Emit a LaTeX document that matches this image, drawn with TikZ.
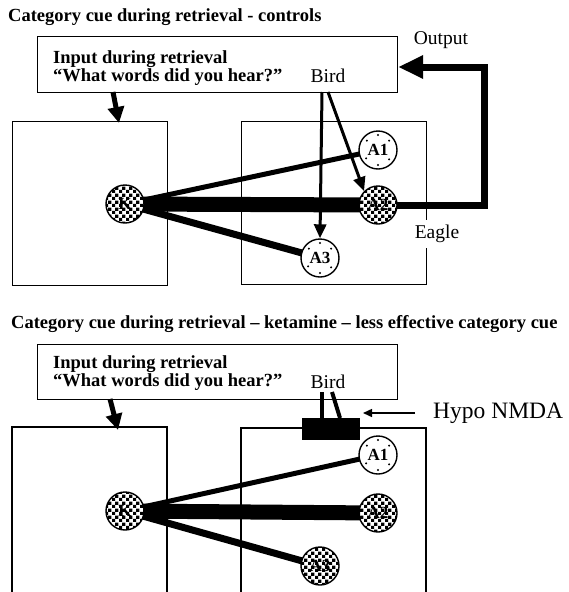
\documentclass[tikz,border=0pt]{standalone}
\usepackage{fontspec}
\setmainfont{Liberation Serif}
\usetikzlibrary{arrows.meta,patterns}
\pgfdeclarepatternformonly{chk}{\pgfqpoint{0pt}{0pt}}{\pgfqpoint{7pt}{7pt}}{\pgfqpoint{7pt}{7pt}}{%
  \pgfpathrectangle{\pgfqpoint{0pt}{0pt}}{\pgfqpoint{3.5pt}{3.5pt}}%
  \pgfpathrectangle{\pgfqpoint{3.5pt}{3.5pt}}{\pgfqpoint{3.5pt}{3.5pt}}%
  \pgfusepath{fill}}
\pgfdeclarelayer{bg}
\pgfsetlayers{bg,main}
\begin{document}
\begin{tikzpicture}[x=1pt,y=-1pt,
  box/.style={draw, line width=1.2pt, inner sep=0pt},
  opbox/.style={line width=1.2pt},
  ttl/.style={anchor=west, inner sep=0pt, font=\fontsize{18.5}{20}\selectfont\bfseries},
  itext/.style={anchor=west, inner sep=0pt, font=\fontsize{18.5}{20}\selectfont\bfseries},
  lbl/.style={inner sep=0pt, font=\fontsize{19.5}{20}\selectfont},
  cell/.style={circle, draw, line width=1.4pt, minimum size=38pt, inner sep=0pt, font=\fontsize{17}{17}\selectfont\bfseries},
  chk/.style={cell, preaction={fill=white}, pattern=chk},
  dotty/.style={cell, fill=white},
  dotmark/.style={fill=black},
  conn/.style={line cap=butt},
  thin/.style={conn, line width=5pt},
  thick/.style={conn, line width=15pt},
  mid/.style={conn, line width=7pt},
  birdarrow/.style={line width=3pt, -{Triangle[length=14pt,width=12pt]}},
  inarrow/.style={line width=5pt, -{Triangle[length=16pt,width=16pt]}},
  outarrow/.style={line width=7pt, -{Triangle[length=25pt,width=22pt]}},
  hypoarrow/.style={line width=1.5pt, -{Triangle[length=9pt,width=8pt]}}
]
\useasboundingbox (0,0) rectangle (568,592);

% ---------------- top panel ----------------
\node[ttl] (t1) at (8,17) {Category cue during retrieval - controls};
\node[box, minimum width=360pt, minimum height=56pt, anchor=north west] (in1) at (37,36) {};
\node[itext] (q1) at (53,59) {Input during retrieval};
\node[itext] (q1b) at (53,77) {“What words did you hear?”};
\node[lbl] (bird1) at (328,76) {Bird};
\node[lbl] (out1) at (441,40) {Output};

\node[box, minimum width=155pt, minimum height=164pt, anchor=north west] (L1) at (12,121) {};
\node[box, minimum width=185pt, minimum height=163pt, anchor=north west] (R1) at (241,121) {};
\node[lbl, fill=white, inner ysep=5pt, inner xsep=2pt] (eagle) at (437,234) {Eagle};

\node[chk] (K1) at (125,204) {K};
\node[dotty] (A1t) at (378,150) {A1};
\node[chk] (A2t) at (378,205) {A2};
\node[dotty] (A3t) at (320,258) {A3};

\coordinate (a1s) at (113,92);
\coordinate (a1e) at (119,123);
\coordinate (b1s) at (322,92);
\coordinate (b2s) at (328,92);
\coordinate (oc) at (484,67);

\begin{pgfonlayer}{bg}
\draw[thin] (K1.center) -- (A1t.center);
\draw[thick] (K1.center) -- (A2t.center);
\draw[mid] (K1.center) -- (A3t.center);
\draw[outarrow] (A2t.center) -| (oc) -- (oc -| in1.east);
\end{pgfonlayer}
\draw[inarrow] (a1s) -- (a1e);
\draw[birdarrow] (b1s) -- (A3t.north);
\draw[birdarrow] (b2s) -- (A2t.north west);

% ---------------- bottom panel ----------------
\node[ttl] (t2) at (11,324) {Category cue during retrieval – ketamine – less effective category cue};
\node[box, minimum width=360pt, minimum height=55pt, anchor=north west] (in2) at (37,344) {};
\node[itext] (q2) at (53,364) {Input during retrieval};
\node[itext] (q2b) at (53,382) {“What words did you hear?”};
\node[lbl] (bird2) at (328,382) {Bird};
\node[lbl, anchor=west, font=\fontsize{23.5}{24}\selectfont] (hypo) at (433,413) {Hypo NMDA};

\draw[opbox] (12,592) -- (12,427) -- (167,427) -- (167,592);
\draw[opbox] (241,592) -- (241,428) -- (426,428) -- (426,592);
\node[fill, inner sep=0pt, minimum width=58pt, minimum height=22pt, anchor=north west] (blk) at (302,418) {};

\node[chk] (K2) at (125,511) {K};
\node[dotty] (A1b) at (378,455) {A1};
\node[chk] (A2b) at (378,513) {A2};
\node[chk] (A3b) at (320,566) {A3};

\coordinate (a2s) at (110,399);
\coordinate (a2e) at (118,430);
\coordinate (c1s) at (322,392);
\coordinate (c1e) at (322,418);
\coordinate (c2s) at (332,392);
\coordinate (c2e) at (340,418);
\coordinate (hs) at (415,413);
\coordinate (he) at (363,413);

\begin{pgfonlayer}{bg}
\draw[thin] (K2.center) -- (A1b.center);
\draw[thick] (K2.center) -- (A2b.center);
\draw[mid] (K2.center) -- (A3b.center);
\end{pgfonlayer}
\draw[inarrow] (a2s) -- (a2e);
\draw[line width=4pt] (c1s) -- (c1e);
\draw[line width=4pt] (c2s) -- (c2e);
\draw[hypoarrow] (hs) -- (he);

% scattered dots inside the dotted cells
\foreach \cellname in {A1t,A3t,A1b}{
  \foreach \ang/\rad in {40/14.5, 90/15, 140/14.5, 215/14.5, 270/15, 320/14.5}{
    \fill[dotmark] (\cellname.center) ++(\ang:\rad pt) circle (1.1pt);
  }
}
\end{tikzpicture}
\end{document}
